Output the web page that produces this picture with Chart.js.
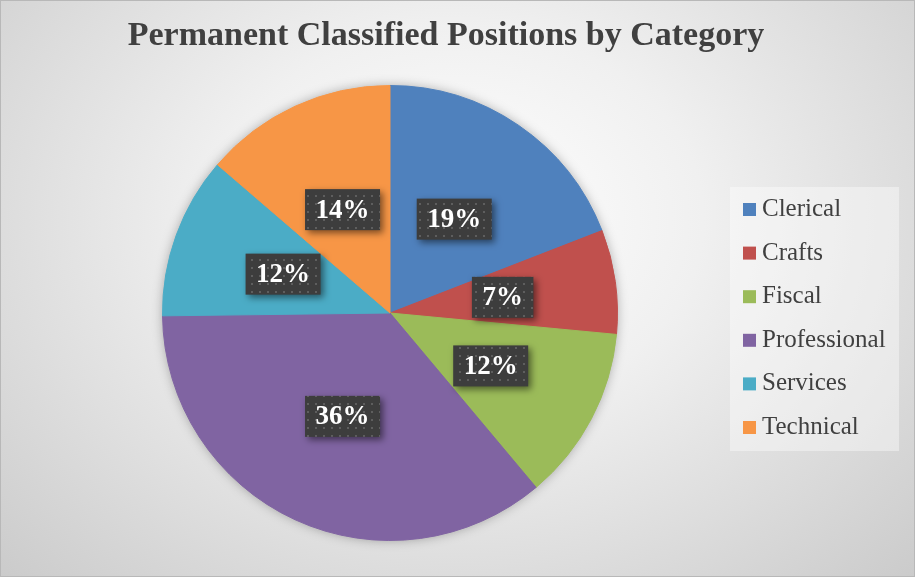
<!DOCTYPE html>
<html>
<head>
<meta charset="utf-8">
<script src="https://cdn.jsdelivr.net/npm/chart.js@4.4.1/dist/chart.umd.min.js"></script>
<style>
  body { margin: 0; }
  #wrap {
    width: 915px; height: 577px; position: relative;
    background: radial-gradient(ellipse farthest-corner at 50% 38%, #ffffff 0%, #f0f0f0 38%, #cbcbcb 100%);
  }
</style>
</head>
<body>
<div id="wrap"><canvas id="chart"></canvas></div>
<script>
const chartTitle = 'Permanent Classified Positions by Category';
const categories = ['Clerical', 'Crafts', 'Fiscal', 'Professional', 'Services', 'Technical'];
const shares = [19.1, 7.4, 12.4, 35.9, 11.5, 13.7];
const sliceColors = ['#4f81bd', '#c0504d', '#9bbb59', '#8064a2', '#4bacc6', '#f79646'];

const textColor = '#404040';
const serif = '"Liberation Serif", "Times New Roman", serif';

// little dotted tile used to fill the percent boxes
function makeDots() {
    const c = document.createElement('canvas');
    c.width = 8; c.height = 8;
    const g = c.getContext('2d');
    g.fillStyle = '#3d3d3d';
    g.fillRect(0, 0, 8, 8);
    g.fillStyle = '#5e5e5e';
    g.fillRect(3, 3, 2, 2);
    return c;
}
const dotTile = makeDots();

const pieShadow = {
    id: 'pieShadow',
    beforeDatasetsDraw(chart) {
        const arc = chart.getDatasetMeta(0).data[0];
        if (!arc) return;
        const ctx = chart.ctx;
        ctx.save();
        ctx.shadowColor = 'rgba(0,0,0,0.35)';
        ctx.shadowBlur = 12;
        ctx.fillStyle = '#999';
        ctx.beginPath();
        ctx.arc(arc.x, arc.y, arc.outerRadius - 1, 0, Math.PI * 2);
        ctx.fill();
        ctx.restore();
    }
};

const percentLabels = {
    id: 'percentLabels',
    afterDatasetsDraw(chart) {
        const ctx = chart.ctx;
        const total = shares.reduce((a, b) => a + b, 0);
        const pattern = ctx.createPattern(dotTile, 'repeat');
        ctx.save();
        ctx.font = 'bold 27px ' + serif;
        chart.getDatasetMeta(0).data.forEach((arc, i) => {
            const txt = Math.round(shares[i] / total * 100) + '%';
            const pos = arc.tooltipPosition();
            const w = ctx.measureText(txt).width + 21;
            const h = 41;
            ctx.save();
            ctx.shadowColor = 'rgba(0,0,0,0.5)';
            ctx.shadowBlur = 7;
            ctx.shadowOffsetX = 3;
            ctx.shadowOffsetY = 3;
            ctx.fillStyle = pattern;
            ctx.fillRect(pos.x - w / 2, pos.y - h / 2, w, h);
            ctx.restore();
            ctx.fillStyle = '#ffffff';
            ctx.textAlign = 'center';
            ctx.textBaseline = 'middle';
            ctx.fillText(txt, pos.x, pos.y + 1);
        });
        ctx.restore();
    }
};

const titleAndLegend = {
    id: 'titleAndLegend',
    afterDraw(chart) {
        const ctx = chart.ctx;
        ctx.save();
        // outer frame
        ctx.strokeStyle = '#b8b8b8';
        ctx.lineWidth = 1;
        ctx.strokeRect(0.5, 0.5, chart.width - 1, chart.height - 1);

        ctx.fillStyle = textColor;
        ctx.font = 'bold 34px ' + serif;
        ctx.textAlign = 'center';
        ctx.textBaseline = 'alphabetic';
        ctx.fillText(chartTitle, 446, 45);

        // legend panel
        ctx.fillStyle = 'rgba(255,255,255,0.4)';
        ctx.fillRect(730, 187, 169, 264);
        ctx.font = '25px ' + serif;
        ctx.textAlign = 'left';
        ctx.textBaseline = 'middle';
        categories.forEach((name, i) => {
            const y = 209.5 + i * 43.6;
            ctx.fillStyle = sliceColors[i];
            ctx.fillRect(743, y - 6.5, 13, 13);
            ctx.fillStyle = textColor;
            ctx.fillText(name, 762, y);
        });
        ctx.restore();
    }
};

new Chart(document.getElementById('chart'), {
    type: 'pie',
    data: {
        labels: categories,
        datasets: [{
            data: shares,
            backgroundColor: sliceColors,
            borderColor: sliceColors,
            borderWidth: 1
        }]
    },
    options: {
        responsive: true,
        maintainAspectRatio: false,
        animation: false,
        layout: { padding: { top: 85, bottom: 36, left: 0, right: 135 } },
        plugins: {
            legend: { display: false },
            title: { display: false },
            tooltip: { enabled: false }
        }
    },
    plugins: [pieShadow, percentLabels, titleAndLegend]
});
</script>
</body>
</html>
